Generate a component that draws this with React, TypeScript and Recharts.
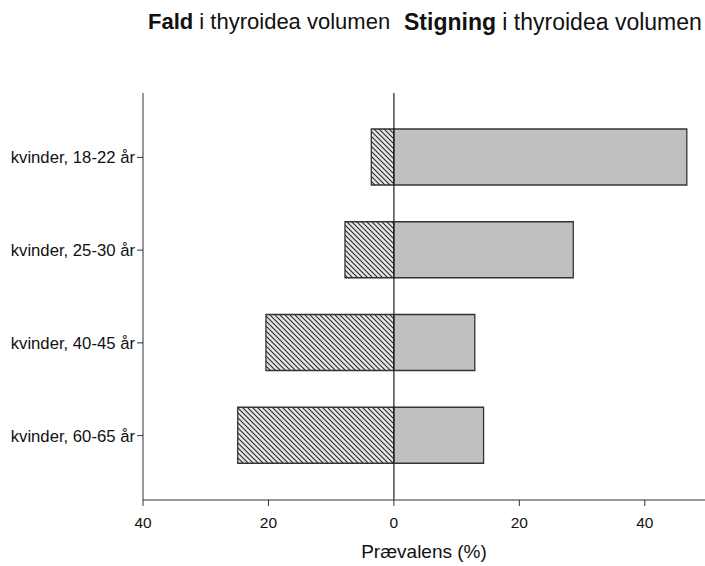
import React from 'react';
import { BarChart, Bar, XAxis, YAxis, ReferenceLine } from 'recharts';

const categories = ['kvinder, 18-22 år', 'kvinder, 25-30 år', 'kvinder, 40-45 år', 'kvinder, 60-65 år'];
const fald = [-3.6, -7.8, -20.4, -24.9];
const stigning = [46.7, 28.6, 12.9, 14.3];
const xTicks = [-40, -20, 0, 20, 40];
const xLabel = 'Prævalens (%)';

const data = categories.map((name, i) => ({ name, fald: fald[i], stigning: stigning[i] }));

const FONT = '"Liberation Sans", Arial, sans-serif';

export default function App() {
  return (
    <div style={{ position: 'absolute', left: 0, top: 0, width: 705, height: 566, fontFamily: FONT, background: '#fff' }}>
      <div style={{ position: 'absolute', left: 148, top: 9, fontSize: 22, color: '#111', whiteSpace: 'nowrap' }}>
        <b>Fald</b> i thyroidea volumen
      </div>
      <div style={{ position: 'absolute', left: 404, top: 9, fontSize: 23, color: '#111', whiteSpace: 'nowrap' }}>
        <b>Stigning</b> i thyroidea volumen
      </div>
      <BarChart
        width={705}
        height={566}
        data={data}
        layout="vertical"
        stackOffset="sign"
        margin={{ top: 93, right: 0, bottom: 0, left: 8 }}
      >
        <defs>
          <pattern id="hatch" patternUnits="userSpaceOnUse" width="5" height="5">
            <rect width="5" height="5" fill="#e6e6e6" />
            <path d="M0,0 L5,5 M-1,4 L1,6 M4,-1 L6,1" stroke="#2a2a2a" strokeWidth="1.1" />
          </pattern>
        </defs>
        <XAxis
          type="number"
          domain={[-40, 49.6]}
          ticks={xTicks}
          allowDataOverflow
          tickFormatter={(v: number) => String(Math.abs(v))}
          height={66}
          tickSize={6}
          tickMargin={11}
          stroke="#333"
          tick={{ fill: '#111', fontSize: 15.5, fontFamily: FONT }}
          label={{ value: xLabel, position: 'insideBottom', offset: 8, fill: '#111', fontSize: 19, fontFamily: FONT }}
        />
        <YAxis
          type="category"
          dataKey="name"
          width={135}
          padding={{ top: 18, bottom: 18 }}
          tickSize={6}
          tickMargin={2}
          stroke="#333"
          tick={{ fill: '#111', fontSize: 16.7, fontFamily: FONT }}
        />
        <Bar dataKey="fald" stackId="a" fill="url(#hatch)" stroke="#333" strokeWidth={1.3} barSize={56} isAnimationActive={false} />
        <Bar dataKey="stigning" stackId="a" fill="#c0c0c0" stroke="#333" strokeWidth={1.3} barSize={56} isAnimationActive={false} />
        <ReferenceLine x={0} stroke="#222" strokeWidth={1.2} />
      </BarChart>
    </div>
  );
}
